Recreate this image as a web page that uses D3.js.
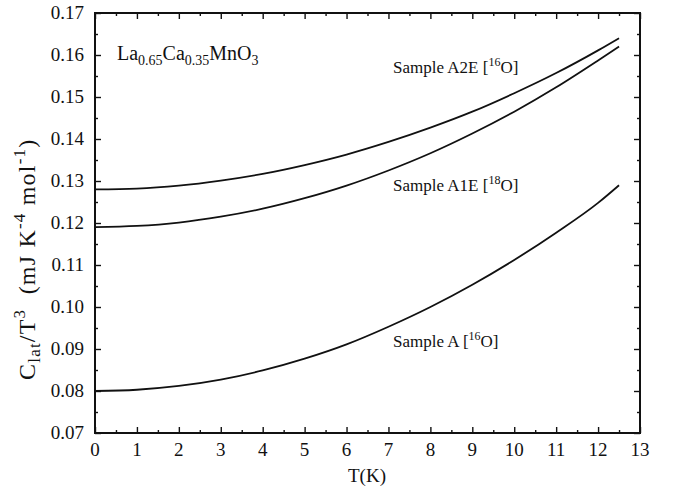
<!DOCTYPE html>
<html><head><meta charset="utf-8">
<script src="https://cdn.jsdelivr.net/npm/d3@7"></script>
<style>body{margin:0;background:#fff}svg{display:block}text{font-family:"Liberation Serif","Times New Roman",serif;fill:#111}</style>
</head><body>
<script>
const T = [0,1,2,3,4,5,6,7,8,9,10,11,12,12.5];
const sampleA2E = [0.1280,0.1282,0.1289,0.1301,0.1317,0.1338,0.1363,0.1393,0.1427,0.1465,0.1509,0.1557,0.1611,0.1640];
const sampleA1E = [0.1190,0.1193,0.1201,0.1215,0.1234,0.1259,0.1289,0.1325,0.1366,0.1413,0.1465,0.1523,0.1587,0.1620];
const sampleA   = [0.0800,0.0803,0.0812,0.0827,0.0849,0.0877,0.0911,0.0953,0.1000,0.1053,0.1112,0.1177,0.1248,0.1290];
const xTicks = [0,1,2,3,4,5,6,7,8,9,10,11,12,13];
const yTicks = [0.07,0.08,0.09,0.10,0.11,0.12,0.13,0.14,0.15,0.16,0.17];
const yTickLabels = ["0.07","0.08","0.09","0.10","0.11","0.12","0.13","0.14","0.15","0.16","0.17"];

const W=676,H=493, L=95,R=640,Tp=13,B=433;
const svg=d3.select("body").append("svg").attr("width",W).attr("height",H);
const x=d3.scaleLinear().domain([0,13]).range([L,R]);
const y=d3.scaleLinear().domain([0.07,0.17]).range([B,Tp]);
const minorX=d3.range(0.5,13,1), minorY=d3.range(0.075,0.17,0.01);

function ax(g, gen, vals, size){ g.call(gen.tickValues(vals).tickSize(size).tickFormat("")); g.select(".domain").remove(); g.selectAll("line").attr("stroke","#111").attr("stroke-width",1.4); }
ax(svg.append("g").attr("transform",`translate(0,${B})`), d3.axisTop(x), xTicks, 6);
ax(svg.append("g").attr("transform",`translate(0,${B})`), d3.axisTop(x), minorX, 3);
ax(svg.append("g").attr("transform",`translate(0,${Tp})`), d3.axisBottom(x), xTicks, 6);
ax(svg.append("g").attr("transform",`translate(0,${Tp})`), d3.axisBottom(x), minorX, 3);
ax(svg.append("g").attr("transform",`translate(${L},0)`), d3.axisRight(y), yTicks, 6);
ax(svg.append("g").attr("transform",`translate(${L},0)`), d3.axisRight(y), minorY, 3);
ax(svg.append("g").attr("transform",`translate(${R},0)`), d3.axisLeft(y), yTicks, 6);
ax(svg.append("g").attr("transform",`translate(${R},0)`), d3.axisLeft(y), minorY, 3);

svg.append("rect").attr("x",L).attr("y",Tp).attr("width",R-L).attr("height",B-Tp)
  .attr("fill","none").attr("stroke","#111").attr("stroke-width",2);

svg.append("g").selectAll("text").data(xTicks).join("text")
  .attr("x",d=>x(d)).attr("y",B+23).attr("text-anchor","middle").attr("font-size",19).text(d=>d);
svg.append("g").selectAll("text").data(yTicks).join("text")
  .attr("x",L-11).attr("y",d=>y(d)+6).attr("text-anchor","end").attr("font-size",19).text((d,i)=>yTickLabels[i]);

svg.append("text").attr("x",367).attr("y",482).attr("text-anchor","middle").attr("font-size",19).text("T(K)");

// y title
const yt=svg.append("text").attr("transform",`translate(35,380) rotate(-90)`)
  .attr("font-size",24).style("white-space","pre").style("letter-spacing","1.2px");
const parts=[["C",0,24],["lat",5,17],["/T",-5,24],["3",-10,17],["  (mJ K",10,24],["-4",-10,17],[" mol",10,24],["-1",-10,17],[")",10,24]];
parts.forEach(p=>yt.append("tspan").attr("dy",p[1]).attr("font-size",p[2]).text(p[0]));

const line=d3.line().x(d=>x(d[0])).y(d=>y(d[1])).curve(d3.curveMonotoneX);
[sampleA2E,sampleA1E,sampleA].forEach(s=>{
  svg.append("path").datum(T.map((t,i)=>[t,s[i]])).attr("d",line)
    .attr("fill","none").attr("stroke","#111").attr("stroke-width",1.8);
});

const c=svg.append("text").attr("x",117).attr("y",60).attr("font-size",20);
c.append("tspan").text("La");
c.append("tspan").attr("font-size",14).attr("dy",5).text("0.65");
c.append("tspan").attr("dy",-5).text("Ca");
c.append("tspan").attr("font-size",14).attr("dy",5).text("0.35");
c.append("tspan").attr("dy",-5).text("MnO");
c.append("tspan").attr("font-size",14).attr("dy",5).text("3");

function lab(xp,yp,pre,iso){
  const t=svg.append("text").attr("x",xp).attr("y",yp).attr("font-size",17);
  t.append("tspan").text(pre+" [");
  t.append("tspan").attr("font-size",12).attr("dy",-7).text(iso);
  t.append("tspan").attr("dy",7).text("O]");
}
lab(393,73,"Sample A2E","16");
lab(393,191,"Sample A1E","18");
lab(393,347,"Sample A","16");
</script>
</body></html>
